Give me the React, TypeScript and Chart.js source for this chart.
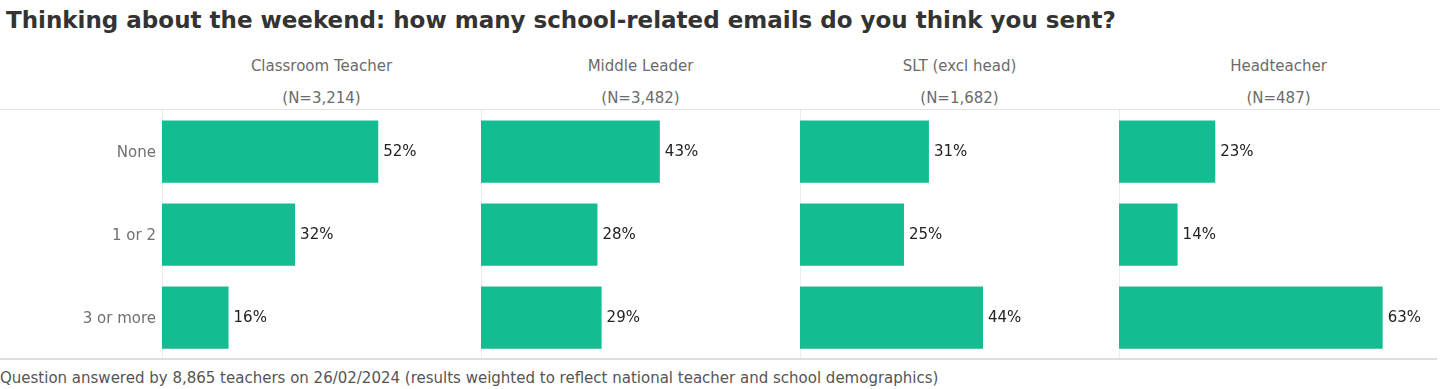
import React, { useEffect, useRef } from "react";
import { Chart, registerables } from "chart.js";

Chart.register(...registerables);

const TITLE = "Thinking about the weekend: how many school-related emails do you think you sent?";
const FOOTER =
  "Question answered by 8,865 teachers on 26/02/2024 (results weighted to reflect national teacher and school demographics)";
const categories = ["None", "1 or 2", "3 or more"];
const groups = ["Classroom Teacher", "Middle Leader", "SLT (excl head)", "Headteacher"];
const groupN = ["(N=3,214)", "(N=3,482)", "(N=1,682)", "(N=487)"];
const classroomTeacher = [52, 32, 16];
const middleLeader = [43, 28, 29];
const sltExclHead = [31, 25, 44];
const headteacher = [23, 14, 63];
const seriesValues = [classroomTeacher, middleLeader, sltExclHead, headteacher];

const FONT = "'DejaVu Sans', sans-serif";
const BAR_COLOR = "#13bd91";
const X_MAX = 76.7;

const panelLeft = [0, 481, 800, 1119];
const panelWidth = [481, 319, 319, 321];
const plotLeft = [162, 481, 800, 1119];

const valueLabels = {
  id: "valueLabels",
  afterDatasetsDraw(chart: any) {
    const ctx = chart.ctx;
    ctx.save();
    ctx.font = `15px ${FONT}`;
    ctx.fillStyle = "#222";
    ctx.textAlign = "left";
    ctx.textBaseline = "middle";
    chart.data.datasets.forEach((ds: any, di: number) => {
      const meta = chart.getDatasetMeta(di);
      meta.data.forEach((bar: any, i: number) => {
        ctx.fillText(`${ds.data[i]}%`, bar.x + 5, bar.y + 1);
      });
    });
    ctx.restore();
  },
};

function Panel({ idx }: { idx: number }) {
  const ref = useRef<HTMLCanvasElement | null>(null);
  useEffect(() => {
    if (!ref.current) return;
    const first = idx === 0;
    const chart = new Chart(ref.current, {
      type: "bar",
      data: {
        labels: categories,
        datasets: [
          {
            data: seriesValues[idx],
            backgroundColor: BAR_COLOR,
            borderWidth: 0,
            barPercentage: 0.75,
            categoryPercentage: 1,
          },
        ],
      },
      options: {
        indexAxis: "y",
        animation: false,
        responsive: false,
        maintainAspectRatio: false,
        devicePixelRatio: 1,
        layout: { padding: 0 },
        plugins: { legend: { display: false }, tooltip: { enabled: false }, title: { display: false } },
        scales: {
          x: { display: false, min: 0, max: X_MAX },
          y: {
            display: true,
            grid: { display: false, drawTicks: false },
            border: { display: true, color: "#ececec", width: 1 },
            ticks: {
              display: first,
              padding: 6,
              labelOffset: 2,
              color: "#707070",
              font: { family: FONT, size: 15 },
            },
            afterFit(scale: any) {
              scale.width = first ? 162 : 0;
              scale.paddingTop = 0;
              scale.paddingBottom = 0;
            },
          },
        },
      },
      plugins: [valueLabels],
    } as any);
    return () => chart.destroy();
  }, [idx]);
  return (
    <canvas
      ref={ref}
      width={panelWidth[idx]}
      height={249}
      style={{ position: "absolute", left: panelLeft[idx], top: 109.5, width: panelWidth[idx], height: 249 }}
    />
  );
}

const headerStyle: React.CSSProperties = {
  position: "absolute",
  width: 319,
  textAlign: "center",
  fontSize: 15,
  lineHeight: "18px",
  color: "#6b6b6b",
  whiteSpace: "nowrap",
};

export default function App() {
  return (
    <div
      style={{
        position: "fixed",
        left: 0,
        top: 0,
        width: 1440,
        height: 389,
        background: "#fff",
        fontFamily: FONT,
        overflow: "hidden",
      }}
    >
      <div
        style={{
          position: "absolute",
          left: 6,
          top: 7,
          fontSize: 23,
          lineHeight: "26px",
          fontWeight: "bold",
          color: "#333",
          whiteSpace: "nowrap",
        }}
      >
        {TITLE}
      </div>
      {groups.map((g, i) => (
        <React.Fragment key={g}>
          <div style={{ ...headerStyle, left: plotLeft[i], top: 57 }}>{g}</div>
          <div style={{ ...headerStyle, left: plotLeft[i], top: 89 }}>{groupN[i]}</div>
        </React.Fragment>
      ))}
      <div style={{ position: "absolute", left: 0, top: 109, width: 1440, height: 1, background: "#e2e2e2" }} />
      {groups.map((g, i) => (
        <Panel key={g} idx={i} />
      ))}
      <div style={{ position: "absolute", left: 0, top: 358, width: 1437, height: 2, background: "#dedede" }} />
      <div
        style={{
          position: "absolute",
          left: 0,
          top: 369,
          fontSize: 15,
          lineHeight: "18px",
          color: "#555",
          whiteSpace: "nowrap",
        }}
      >
        {FOOTER}
      </div>
    </div>
  );
}
